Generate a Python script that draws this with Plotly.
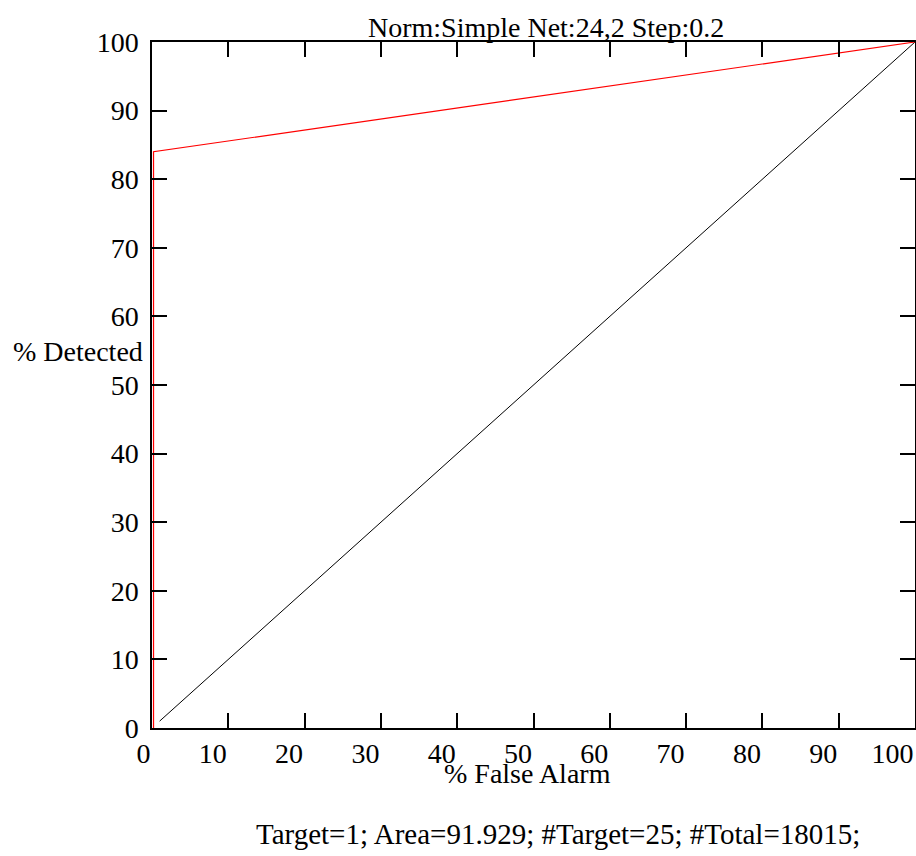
import plotly.graph_objects as go

# Data
red_x = [0.2, 0.2, 100]
red_y = [0, 84, 100]
diag_x = [1, 100]
diag_y = [1, 100]
x_ticks = [0, 10, 20, 30, 40, 50, 60, 70, 80, 90, 100]
y_ticks = [0, 10, 20, 30, 40, 50, 60, 70, 80, 90, 100]
title_text = "Norm:Simple Net:24,2 Step:0.2"
xlabel = "% False Alarm"
ylabel = "% Detected"
footer = "Target=1; Area=91.929; #Target=25; #Total=18015;"

FONT = "Liberation Serif, Times New Roman, serif"
FS = 28
TFS = 28

fig = go.Figure()
fig.add_trace(go.Scatter(x=diag_x, y=diag_y, mode="lines",
                         line=dict(color="black", width=1), showlegend=False, hoverinfo="skip"))
fig.add_trace(go.Scatter(x=red_x, y=red_y, mode="lines",
                         line=dict(color="red", width=1.2), showlegend=False, hoverinfo="skip"))

axis_common = dict(showgrid=False, zeroline=False, showline=True, linecolor="black", linewidth=1.5,
                   mirror="ticks", ticks="inside", ticklen=15, tickwidth=1.5, tickcolor="black",
                   tickfont=dict(family=FONT, size=TFS, color="black"), range=[0, 100], fixedrange=True,
                   automargin=False)

fig.update_xaxes(**axis_common, tickvals=x_ticks, ticklabelposition="outside left",
                 ticklabelstandoff=0)
fig.update_yaxes(**axis_common, tickvals=y_ticks, ticklabelstandoff=6)

fig.update_layout(
    width=916, height=856,
    margin=dict(l=152, r=1, t=42, b=128, autoexpand=False),
    plot_bgcolor="white", paper_bgcolor="white",
    font=dict(family=FONT, size=FS, color="black"),
    annotations=[
        dict(text=title_text, xref="paper", yref="paper", x=(546 - 152) / 763, y=1 + (42 - 28) / 686,
             xanchor="center", yanchor="middle", showarrow=False, font=dict(family=FONT, size=FS)),
        dict(text=ylabel, xref="paper", yref="paper", x=(145 - 152) / 763, y=(728 - 351) / 686,
             xanchor="right", yanchor="middle", showarrow=False, font=dict(family=FONT, size=FS)),
        dict(text=xlabel, xref="paper", yref="paper", x=(527 - 152) / 763, y=(728 - 773) / 686,
             xanchor="center", yanchor="middle", showarrow=False, font=dict(family=FONT, size=FS)),
        dict(text=footer, xref="paper", yref="paper", x=(558 - 152) / 763, y=(728 - 834) / 686,
             xanchor="center", yanchor="middle", showarrow=False, font=dict(family=FONT, size=29)),
    ],
)

fig.write_html("out.html")
